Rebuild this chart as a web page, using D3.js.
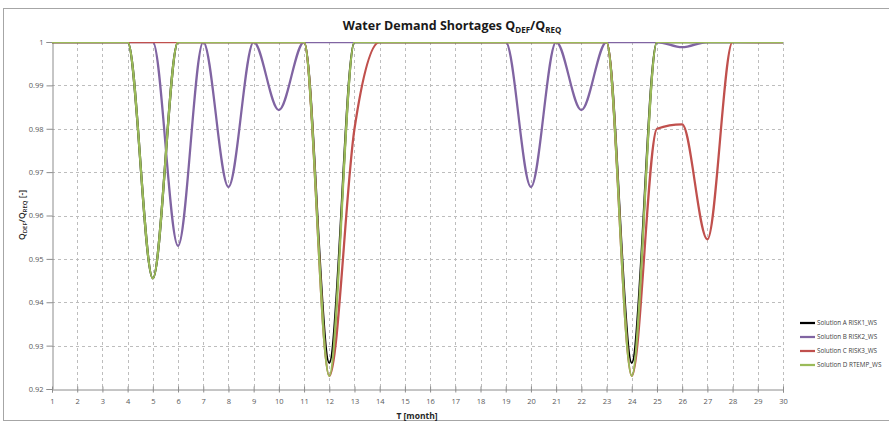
<!DOCTYPE html>
<html><head><meta charset="utf-8">
<script src="https://cdnjs.cloudflare.com/ajax/libs/d3/7.8.5/d3.min.js"></script>
<style>body{margin:0;background:#fff;} svg{display:block;}</style>
</head><body>
<svg id="chart" width="889" height="426"></svg>
<script>
const months = [1,2,3,4,5,6,7,8,9,10,11,12,13,14,15,16,17,18,19,20,21,22,23,24,25,26,27,28,29,30];
const yTicks = [0.92,0.93,0.94,0.95,0.96,0.97,0.98,0.99,1];
const yTickLabels = ["0.92","0.93","0.94","0.95","0.96","0.97","0.98","0.99","1"];
const seriesNames = ["Solution A RISK1_WS","Solution B RISK2_WS","Solution C RISK3_WS","Solution D RTEMP_WS"];
const seriesColors = ["#000000","#8064a2","#c0504d","#9bbb59"];
const solA = [1,1,1,1,0.9455,1,1,1,1,1,1,0.926,1,1,1,1,1,1,1,1,1,1,1,0.926,1,1,1,1,1,1];
const solB = [1,1,1,1,1,0.953,1,0.9666,1,0.9843,1,1,1,1,1,1,1,1,1,0.9666,1,0.9843,1,1,1,0.9988,1,1,1,1];
const solC = [1,1,1,1,1,1,1,1,1,1,1,0.923,0.98,1,1,1,1,1,1,1,1,1,1,0.923,0.98,0.981,0.9545,1,1,1];
const solD = [1,1,1,1,0.9455,1,1,1,1,1,1,0.923,1,1,1,1,1,1,1,1,1,1,1,0.923,1,1,1,1,1,1];
const seriesValues = [solA, solB, solC, solD];

const svg = d3.select("#chart");
const x = d3.scaleLinear().domain([1,30]).range([52,783]);
const y = d3.scaleLinear().domain([0.92,1]).range([389,42]);

// outer frame
svg.append("rect").attr("x",3.5).attr("y",8.5).attr("width",890).attr("height",412)
  .attr("fill","none").attr("stroke","#a6a6a6").attr("stroke-width",1);

// grid
svg.append("g").selectAll("line").data(yTicks.filter(d=>d>0.92)).join("line")
  .attr("x1",x(1)).attr("x2",x(30)).attr("y1",d=>Math.round(y(d))+0.5).attr("y2",d=>Math.round(y(d))+0.5)
  .attr("stroke","#bdbdbd").attr("stroke-dasharray","3,3").attr("stroke-width",1);
svg.append("g").selectAll("line").data(months.filter(d=>d>1)).join("line")
  .attr("x1",d=>Math.round(x(d))+0.5).attr("x2",d=>Math.round(x(d))+0.5).attr("y1",y(1)).attr("y2",y(0.92))
  .attr("stroke","#bdbdbd").attr("stroke-dasharray","3,3").attr("stroke-width",1);

// axes
const xAxis = d3.axisBottom(x).tickValues(months).tickFormat(d3.format("d")).tickSize(3).tickPadding(6);
const gx = svg.append("g").attr("transform",`translate(0,${Math.round(y(0.92))+0.5})`).call(xAxis);
gx.select(".domain").attr("stroke","#8c8c8c");
gx.selectAll(".tick line").attr("stroke","#8c8c8c").attr("y1",-3);
gx.selectAll("text").attr("fill","#595959").style("font-family","'Open Sans', sans-serif").style("font-size","7.5px");

const yAxis = d3.axisLeft(y).tickValues(yTicks).tickFormat((d,i)=>yTickLabels[i]).tickSize(6).tickPadding(3);
const gy = svg.append("g").attr("transform",`translate(${Math.round(x(1))+0.5},0)`).call(yAxis);
gy.select(".domain").attr("stroke","#8c8c8c");
gy.selectAll(".tick line").attr("stroke","#8c8c8c");
gy.selectAll("text").attr("fill","#595959").style("font-family","'Open Sans', sans-serif").style("font-size","7.5px");

// clip
svg.append("clipPath").attr("id","plotclip").append("rect")
  .attr("x",x(1)).attr("y",y(1)).attr("width",x(30)-x(1)+2).attr("height",y(0.92)-y(1));

const line = d3.line().x((d,i)=>x(months[i])).y(d=>y(d)).curve(d3.curveMonotoneX);
const gl = svg.append("g").attr("clip-path","url(#plotclip)");
seriesValues.forEach((vals,k)=>{
  gl.append("path").attr("d",line(vals)).attr("fill","none")
    .attr("stroke",seriesColors[k]).attr("stroke-width",2.25).attr("stroke-linejoin","round");
});

// title
const title = svg.append("text").attr("x",452).attr("y",30).attr("text-anchor","middle")
  .style("font-family","'Open Sans', sans-serif").style("font-weight","bold").style("font-size","12.5px").attr("fill","#1a1a1a");
title.append("tspan").text("Water Demand Shortages Q");
title.append("tspan").attr("dy",3).style("font-size","8px").text("DEF");
title.append("tspan").attr("dy",-3).text("/Q");
title.append("tspan").attr("dy",3).style("font-size","8px").text("REQ");

// y label
const yl = svg.append("text").attr("transform","translate(25,215) rotate(-90)").attr("text-anchor","middle")
  .style("font-family","'Open Sans', sans-serif").style("font-weight","600").style("font-size","8.5px").attr("fill","#262626");
yl.append("tspan").text("Q");
yl.append("tspan").attr("dy",2).style("font-size","6px").text("DEF");
yl.append("tspan").attr("dy",-2).text("/Q");
yl.append("tspan").attr("dy",2).style("font-size","6px").text("REQ");
yl.append("tspan").attr("dy",-2).text(" [-]");

// x label
svg.append("text").attr("x",417).attr("y",419).attr("text-anchor","middle")
  .style("font-family","'Open Sans', sans-serif").style("font-weight","bold").style("font-size","8.5px").attr("fill","#262626")
  .text("T [month]");

// legend
const lg = svg.append("g");
seriesNames.forEach((name,k)=>{
  const yy = 323 + k*14;
  lg.append("line").attr("x1",800).attr("x2",815).attr("y1",yy).attr("y2",yy)
    .attr("stroke",seriesColors[k]).attr("stroke-width",2.25);
  lg.append("text").attr("x",817).attr("y",yy+2.2).text(name)
    .style("font-family","'Open Sans', sans-serif").style("font-size","6.3px").attr("fill","#404040");
});
</script>
</body></html>
